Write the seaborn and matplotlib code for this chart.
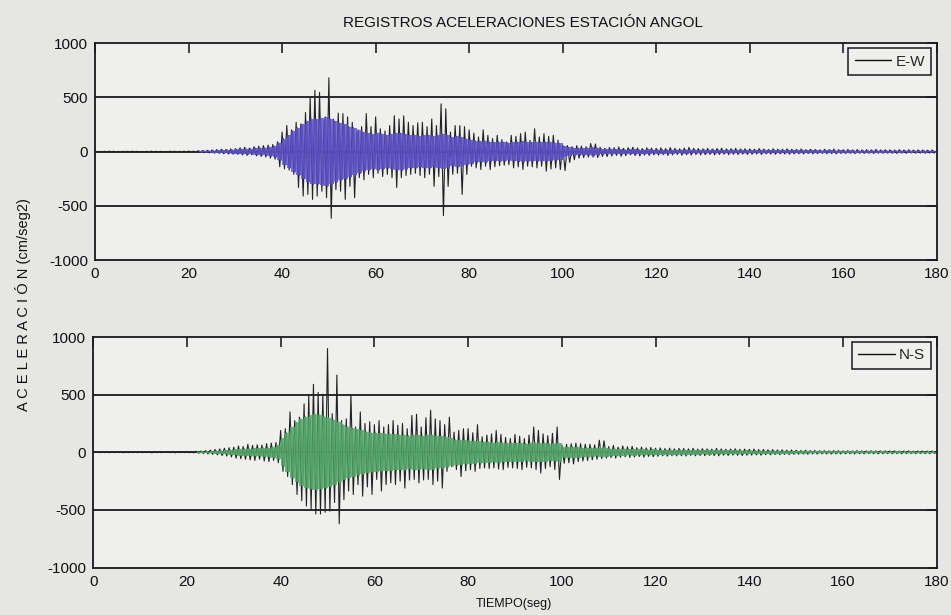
import numpy as np
import pandas as pd
import matplotlib
matplotlib.use("Agg")
import matplotlib.pyplot as plt
from matplotlib.lines import Line2D
import seaborn as sns

# ---------------------------------------------------------------------------
# Accelerogram summary, one sample per second (cm/seg2)
#   *_hi   : positive peak within the second
#   *_lo   : negative peak within the second (half a second later)
#   *_body : amplitude of the dense part of the trace
# ---------------------------------------------------------------------------
t_sec = np.arange(180)

ew_hi = [3, 2, 3, 4, 3, 2, 3, 3, 4, 3,
         2, 3, 4, 3, 3, 2, 4, 3, 3, 4,
         5, 4, 8, 10, 12, 15, 18, 22, 20, 25,
         28, 35, 40, 32, 45, 50, 55, 60, 65, 90,
         180, 240, 200, 270, 255, 360, 500, 565, 545, 290,
         680, 300, 355, 350, 320, 270, 180, 230, 350, 230,
         320, 210, 190, 240, 330, 300, 330, 270, 240, 265,
         270, 230, 300, 240, 440, 395, 180, 240, 240, 230,
         200, 170, 135, 200, 150, 120, 150, 110, 90, 150,
         140, 165, 180, 105, 210, 135, 165, 140, 150, 105,
         60, 55, 45, 55, 50, 45, 75, 70, 40, 30,
         38, 35, 42, 30, 36, 40, 33, 28, 35, 32,
         30, 34, 28, 36, 30, 26, 32, 38, 30, 28,
         26, 30, 24, 28, 32, 25, 27, 30, 24, 26,
         25, 22, 28, 24, 20, 26, 23, 21, 25, 22,
         20, 24, 18, 22, 20, 17, 21, 19, 23, 18,
         17, 20, 16, 19, 15, 18, 16, 20, 15, 17,
         16, 14, 18, 15, 17, 14, 16, 15, 13, 15]

ew_lo = [-3, -2, -3, -2, -4, -3, -2, -3, -3, -2,
         -3, -4, -2, -3, -3, -4, -2, -3, -4, -3,
         -4, -6, -7, -9, -12, -14, -16, -20, -22, -24,
         -25, -30, -35, -30, -40, -45, -50, -60, -70, -140,
         -160, -170, -210, -330, -410, -395, -440, -410, -365, -425,
         -615, -350, -365, -440, -320, -425, -240, -260, -210, -240,
         -200, -230, -210, -240, -330, -240, -220, -210, -200, -220,
         -240, -210, -320, -230, -590, -320, -210, -200, -395, -210,
         -135, -150, -165, -135, -165, -140, -130, -125, -120, -150,
         -140, -165, -135, -140, -150, -135, -180, -160, -150, -165,
         -175, -100, -75, -60, -55, -50, -50, -55, -45, -45,
         -40, -35, -42, -38, -30, -36, -40, -32, -35, -30,
         -32, -28, -35, -30, -26, -33, -29, -31, -27, -30,
         -28, -25, -30, -26, -24, -28, -25, -27, -23, -26,
         -24, -22, -26, -21, -23, -25, -20, -22, -24, -21,
         -20, -22, -18, -21, -19, -17, -20, -18, -21, -17,
         -18, -16, -19, -15, -17, -16, -18, -14, -16, -15,
         -15, -17, -14, -16, -13, -15, -14, -16, -13, -14]

ew_body = [0, 0, 0, 0, 0, 0, 0, 0, 0, 0,
           0, 0, 0, 0, 0, 0, 0, 0, 0, 0,
           0, 0, 5, 6, 8, 10, 12, 14, 15, 18,
           20, 22, 25, 25, 30, 32, 35, 40, 50, 80,
           120, 150, 190, 220, 250, 280, 300, 300, 310, 320,
           300, 280, 260, 250, 230, 220, 200, 180, 170, 160,
           170, 160, 150, 160, 170, 170, 160, 150, 150, 140,
           150, 150, 140, 150, 160, 150, 130, 140, 130, 120,
           110, 100, 95, 100, 90, 85, 90, 85, 80, 85,
           90, 95, 90, 85, 90, 85, 90, 85, 80, 75,
           50, 40, 35, 35, 30, 30, 40, 35, 25, 22,
           22, 20, 22, 18, 20, 21, 19, 18, 20, 17,
           18, 19, 17, 18, 16, 17, 18, 16, 17, 15,
           16, 15, 17, 15, 14, 16, 15, 14, 15, 13,
           14, 13, 15, 13, 12, 14, 13, 12, 13, 12,
           12, 13, 11, 12, 11, 10, 12, 11, 10, 11,
           10, 11, 10, 9, 10, 9, 10, 9, 10, 9,
           9, 8, 9, 8, 9, 8, 8, 9, 8, 8]

ns_hi = [3, 2, 3, 2, 4, 3, 2, 3, 3, 2,
         4, 3, 3, 2, 3, 4, 3, 3, 4, 3,
         5, 6, 10, 12, 15, 20, 25, 30, 35, 40,
         45, 55, 50, 70, 60, 65, 63, 75, 80, 85,
         190, 205, 350, 275, 305, 420, 490, 590, 520, 505,
         900, 335, 670, 275, 290, 500, 220, 350, 250, 265,
         240, 275, 220, 240, 275, 235, 250, 205, 320, 330,
         220, 300, 365, 290, 275, 240, 305, 175, 190, 205,
         205, 170, 240, 135, 150, 160, 190, 155, 130, 120,
         155, 140, 120, 150, 220, 190, 160, 145, 165, 220,
         65, 70, 75, 80, 75, 70, 70, 65, 105, 100,
         50, 60, 45, 55, 48, 52, 40, 45, 38, 42,
         35, 38, 32, 36, 30, 34, 33, 30, 35, 28,
         32, 30, 28, 34, 30, 27, 29, 31, 26, 28,
         26, 28, 24, 25, 22, 24, 20, 22, 19, 21,
         18, 16, 17, 15, 16, 14, 15, 13, 15, 14,
         13, 14, 12, 15, 13, 12, 14, 13, 12, 13,
         12, 13, 11, 12, 13, 11, 12, 12, 11, 12]

ns_lo = [-2, -3, -2, -3, -3, -2, -4, -3, -2, -3,
         -3, -2, -4, -3, -3, -2, -3, -4, -3, -3,
         -4, -5, -8, -10, -14, -18, -22, -28, -32, -40,
         -50, -55, -60, -65, -70, -60, -75, -80, -70, -90,
         -165, -210, -280, -365, -420, -465, -490, -535, -535, -520,
         -510, -435, -620, -410, -335, -365, -280, -380, -300, -365,
         -235, -335, -280, -265, -280, -250, -310, -240, -235, -265,
         -240, -235, -280, -250, -310, -165, -125, -150, -210, -160,
         -150, -165, -140, -135, -140, -135, -145, -150, -130, -135,
         -140, -150, -130, -135, -150, -180, -140, -125, -150, -235,
         -95, -90, -100, -80, -75, -70, -65, -60, -55, -50,
         -45, -50, -42, -38, -44, -40, -36, -42, -35, -38,
         -34, -30, -33, -28, -31, -29, -32, -27, -30, -28,
         -29, -26, -28, -30, -25, -27, -24, -26, -28, -25,
         -24, -22, -25, -20, -22, -19, -21, -18, -20, -17,
         -16, -15, -17, -14, -15, -13, -14, -15, -13, -14,
         -13, -12, -14, -12, -13, -11, -12, -13, -12, -11,
         -12, -11, -12, -10, -11, -12, -10, -11, -12, -10]

ns_body = [0, 0, 0, 0, 0, 0, 0, 0, 0, 0,
           0, 0, 0, 0, 0, 0, 0, 0, 0, 0,
           0, 0, 4, 5, 7, 9, 12, 15, 18, 22,
           25, 28, 30, 32, 34, 35, 38, 40, 45, 60,
           120, 170, 220, 260, 290, 310, 320, 330, 320, 310,
           300, 280, 260, 240, 220, 210, 200, 190, 180, 170,
           170, 165, 160, 160, 155, 150, 150, 145, 150, 150,
           145, 150, 150, 140, 140, 130, 120, 110, 110, 105,
           100, 100, 95, 90, 90, 85, 90, 85, 80, 80,
           80, 80, 75, 80, 85, 80, 80, 75, 75, 80,
           45, 45, 50, 45, 40, 40, 38, 36, 40, 38,
           30, 32, 28, 30, 27, 28, 26, 25, 24, 25,
           22, 23, 21, 22, 20, 21, 20, 19, 20, 19,
           18, 19, 17, 18, 17, 16, 17, 16, 15, 16,
           15, 14, 15, 13, 14, 12, 13, 12, 11, 12,
           10, 11, 10, 9, 10, 9, 9, 10, 9, 8,
           8, 9, 8, 8, 7, 8, 8, 7, 8, 7,
           7, 8, 7, 7, 8, 7, 7, 6, 7, 7]

components = ["E-W", "N-S"]
trace_colors = {"E-W": "#5b4fc4", "N-S": "#52a468"}
x_ticks = [0, 20, 40, 60, 80, 100, 120, 140, 160, 180]
y_ticks = [-1000, -500, 0, 500, 1000]


def peak_trace(hi, lo):
    """Alternate positive and negative peaks into one time series."""
    t = np.column_stack([t_sec, t_sec + 0.5]).ravel()
    a = np.column_stack([hi, lo]).ravel()
    return pd.DataFrame({"t": t, "acc": a})


def body_trace(body):
    b = np.asarray(body, dtype=float)
    b[b == 0] = np.nan
    t = np.column_stack([t_sec + 0.25, t_sec + 0.75]).ravel()
    a = np.column_stack([b, -b]).ravel()
    return b, t, a


sns.set_style("white")
plt.rcParams["font.family"] = ["Liberation Sans", "DejaVu Sans"]
plt.rcParams["axes.unicode_minus"] = False

paper = "#e6e6e4"
fig = plt.figure(figsize=(9.51, 6.15), dpi=100, facecolor=paper)
ax_top = fig.add_axes([0.100, 0.577, 0.885, 0.353])
ax_bot = fig.add_axes([0.098, 0.077, 0.887, 0.375])

series = {
    "E-W": (ew_hi, ew_lo, ew_body),
    "N-S": (ns_hi, ns_lo, ns_body),
}

for ax, name in zip([ax_top, ax_bot], components):
    hi, lo, body = series[name]
    col = trace_colors[name]
    ax.set_facecolor("#efefed")
    ax.grid(False)
    for yv in y_ticks[1:-1]:
        ax.axhline(yv, color="#1a1a1a", lw=1.3, zorder=1)

    sns.lineplot(data=peak_trace(hi, lo), x="t", y="acc", ax=ax,
                 color="#222222", lw=0.8, estimator=None, zorder=2)
    b, bt, ba = body_trace(body)
    ax.fill_between(t_sec + 0.5, -b, b, step="mid", color=col,
                    alpha=0.8, lw=0, zorder=3)
    ax.plot(bt, ba, color=col, lw=1.0, zorder=4)

    ax.set_xlim(0, 180)
    ax.set_ylim(-1000, 1000)
    ax.set_xticks(x_ticks)
    ax.set_yticks(y_ticks)
    ax.set_xlabel("")
    ax.set_ylabel("")
    ax.tick_params(axis="both", direction="in", length=7, width=1.1,
                   top=True, right=True, labelsize=11, colors="#111111",
                   pad=5)
    for sp in ax.spines.values():
        sp.set_color("#1a1a1a")
        sp.set_linewidth(1.3)

    handle = Line2D([0], [0], color="#111111", lw=1.0)
    leg = ax.legend([handle], [name], loc="upper right", fontsize=11,
                    handlelength=2.4, handletextpad=0.3, borderpad=0.4,
                    fancybox=False, framealpha=1, borderaxespad=0.35)
    leg.get_frame().set_edgecolor("#1a1a1a")
    leg.get_frame().set_facecolor("#efefed")
    leg.get_frame().set_linewidth(1.1)

fig.text(0.550, 0.962, "REGISTROS ACELERACIONES ESTACIÓN ANGOL",
         ha="center", va="center", fontsize=11, color="#111111")
fig.text(0.024, 0.505, "A C E L E R A C I Ó N (cm/seg2)",
         ha="center", va="center", rotation=90, fontsize=10.5,
         color="#111111")
fig.text(0.540, 0.018, "TIEMPO(seg)", ha="center", va="center",
         fontsize=9, color="#111111")

fig.savefig("out.png", dpi=100, facecolor=paper)
